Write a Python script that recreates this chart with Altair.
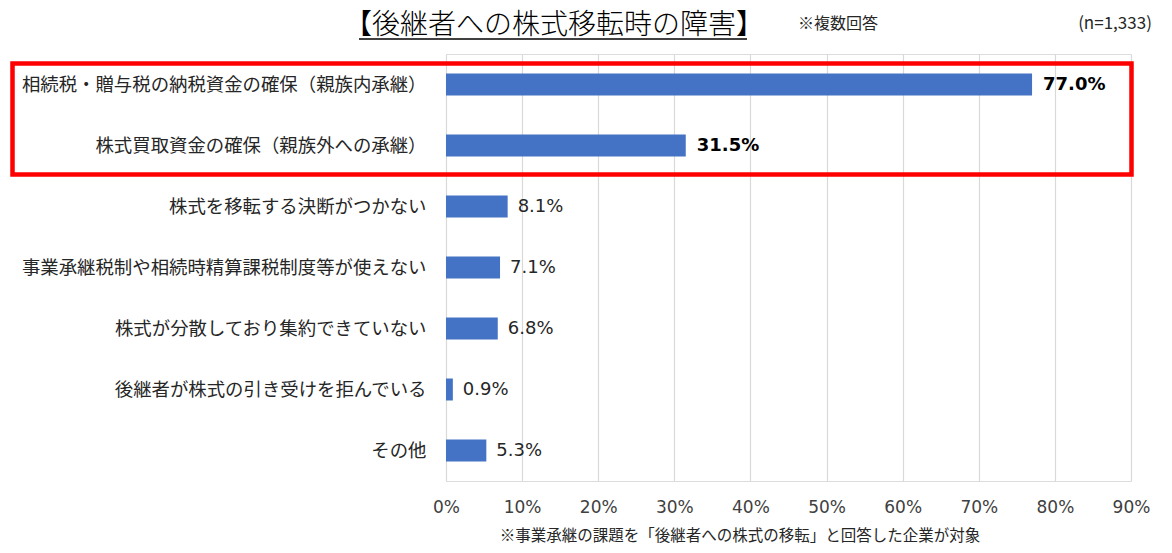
import altair as alt
import pandas as pd

categories = [
    "相続税・贈与税の納税資金の確保（親族内承継）",
    "株式買取資金の確保（親族外への承継）",
    "株式を移転する決断がつかない",
    "事業承継税制や相続時精算課税制度等が使えない",
    "株式が分散しており集約できていない",
    "後継者が株式の引き受けを拒んでいる",
    "その他",
]
values = [77.0, 31.5, 8.1, 7.1, 6.8, 0.9, 5.3]
highlight = [True, True, False, False, False, False, False]
x_ticks = [0, 10, 20, 30, 40, 50, 60, 70, 80, 90]

FONT = "Noto Sans CJK JP"
NUMFONT = "DejaVu Sans"
TITLEFONT = "DejaVu Sans, Noto Sans CJK JP"

df = pd.DataFrame({
    "cat": categories,
    "val": values,
    "hl": highlight,
    "lbl": [f"{v:.1f}%" for v in values],
})

W, H = 685, 427

base = alt.Chart(df)

y_enc = alt.Y("cat:N", sort=categories, title=None,
              scale=alt.Scale(paddingInner=0, paddingOuter=0),
              axis=alt.Axis(ticks=False, domain=False, grid=False,
                            labelPadding=20, labelFontSize=18.4, labelFont=FONT,
                            labelColor="#262626", labelLimit=500))
x_enc = alt.X("val:Q", title=None,
              scale=alt.Scale(domain=[0, 90], nice=False, zero=True),
              axis=alt.Axis(values=x_ticks, labelExpr="datum.value + '%'",
                            ticks=False, domain=False, grid=True,
                            gridColor="#d9d9d9", gridWidth=1.2,
                            labelFlush=False, labelOverlap=False,
                            labelPadding=18, labelFontSize=17, labelFont=NUMFONT,
                            labelColor="#404040"))

bars = base.mark_bar(size=22, color="#4472C4").encode(x=x_enc, y=y_enc)

lbl_bold = base.transform_filter("datum.hl").mark_text(
    align="left", baseline="middle", dx=11, fontSize=18, fontWeight="bold",
    font=NUMFONT, color="#000000"
).encode(x="val:Q", y=alt.Y("cat:N", sort=categories), text="lbl:N")

lbl_norm = base.transform_filter("!datum.hl").mark_text(
    align="left", baseline="middle", dx=10, fontSize=18,
    font=NUMFONT, color="#262626"
).encode(x="val:Q", y=alt.Y("cat:N", sort=categories), text="lbl:N")

box = alt.Chart(pd.DataFrame({"k": [0]})).mark_rect(
    fillOpacity=0, stroke="#ff0000", strokeWidth=4.5
).encode(x=alt.value(-433.5), x2=alt.value(685.5),
         y=alt.value(9.5), y2=alt.value(120.5))

def txt(s, x, y, size, align="center", color="#000000", weight="normal", font=FONT):
    return alt.Chart(pd.DataFrame({"t": [s]})).mark_text(
        align=align, baseline="middle", fontSize=size, font=font, color=color,
        fontWeight=weight
    ).encode(text="t:N", x=alt.value(x), y=alt.value(y))

title = txt("【後継者への株式移転時の障害】", 108, -28, 28, weight=300, font=TITLEFONT)
underline = alt.Chart(pd.DataFrame({"k": [0]})).mark_rule(
    color="#000000", strokeWidth=1.5
).encode(x=alt.value(-87), x2=alt.value(301), y=alt.value(-15))
note = txt("※複数回答", 392, -30, 16, color="#262626")
n_txt = txt("(n=1,333)", 669, -30, 17, color="#262626")
foot = txt("※事業承継の課題を「後継者への株式の移転」と回答した企業が対象", 294, 482, 15.5, color="#262626")

chart = alt.layer(bars, lbl_bold, lbl_norm, box, title, underline, note, n_txt, foot).properties(
    width=W, height=H,
    autosize=alt.AutoSizeParams(type="none"),
    padding={"left": 438, "top": 46, "right": 33, "bottom": 64},
).configure_view(stroke=None).configure(background="#ffffff")

chart.save("out.html", embed_options={"renderer": "svg", "actions": False})
